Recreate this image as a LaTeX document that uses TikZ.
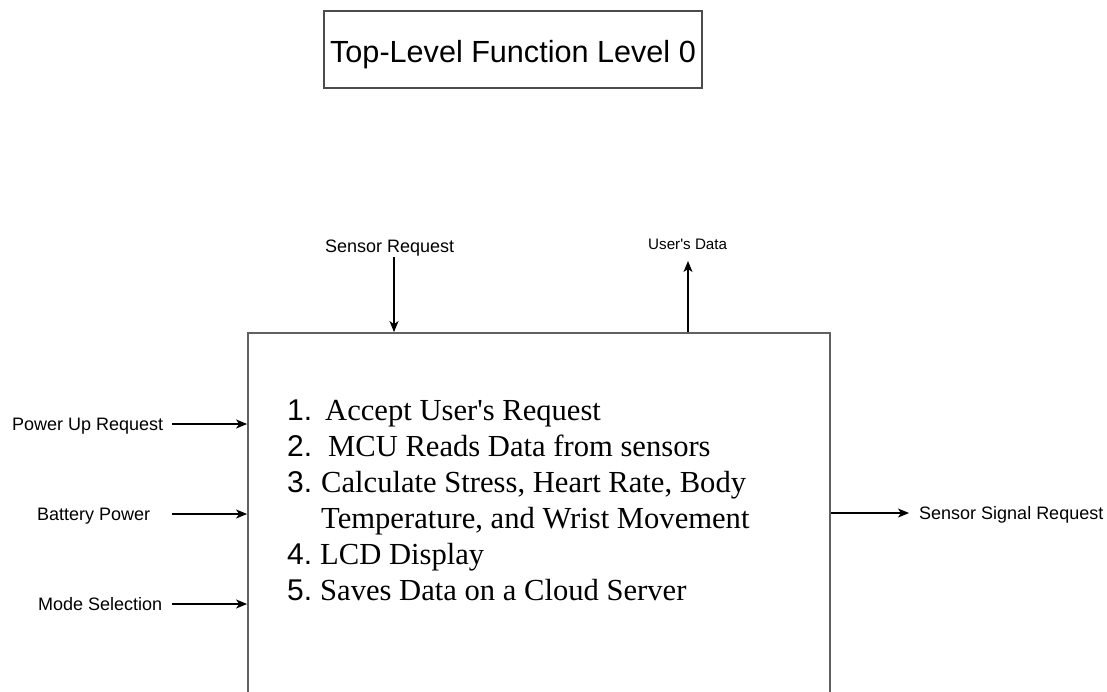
\documentclass[tikz,border=0pt]{standalone}
\usepackage{fontspec}
\setmainfont{Liberation Serif}
\setsansfont{Liberation Sans}
\usetikzlibrary{arrows.meta}

\begin{document}
\begin{tikzpicture}[x=1pt,y=-1pt,
  lbl/.style={font=\sffamily\fontsize{18}{21}\selectfont, anchor=base west, inner sep=0pt},
  smalllbl/.style={font=\sffamily\fontsize{15.2}{18}\selectfont, anchor=base west, inner sep=0pt},
  num/.style={font=\sffamily\fontsize{30}{36}\selectfont, anchor=base west, inner sep=0pt},
  item/.style={font=\rmfamily\fontsize{30.6}{36}\selectfont, anchor=base west, inner sep=0pt},
  arr/.style={-{Stealth[length=11pt,width=9pt,inset=3pt]}, line width=1.2pt, black},
  frame/.style={draw=black!62, line width=1.8pt}]
\useasboundingbox (0,0) rectangle (1107,691);
\clip (0,0) rectangle (1107,691);
\fill[white] (0,0) rectangle (1107,691);

% heading box
\node[draw=black!70, line width=1.4pt, minimum width=378pt, minimum height=77pt,
      inner sep=0pt, text height=25pt, text depth=0pt,
      font=\sffamily\fontsize{30.6}{36}\selectfont] (title) at (513,49.5)
      {Top-Level Function Level 0};

% main function block (runs past the lower edge)
\node[frame, minimum width=582pt, minimum height=400pt, inner sep=0pt] (func) at (539,533) {};

% function list
\node[num] (n1) at (287,420) {1.};
\node[item] (t1) at (325,420) {Accept User\textquotesingle s Request};
\node[num] (n2) at (287,456) {2.};
\node[item] (t2) at (328,456) {MCU Reads Data from sensors};
\node[num] (n3) at (287,492) {3.};
\node[item] (t3) at (321,492) {Calculate Stress, Heart Rate, Body};
\node[item] (t3b) at (321,528) {Temperature, and Wrist Movement};
\node[num] (n4) at (287,564) {4.};
\node[item] (t4) at (320,564) {LCD Display};
\node[num] (n5) at (287,600) {5.};
\node[item] (t5) at (320,600) {Saves Data on a Cloud Server};

% inputs on the left
\node[lbl] (pur) at (12,430.5) {Power Up Request};
\node[lbl] (bat) at (37,520.5) {Battery Power};
\node[lbl] (mode) at (38,610.5) {Mode Selection};
\coordinate (purs) at (172,424);
\coordinate (bats) at (172,514);
\coordinate (modes) at (172,604);
\draw[arr] (purs) -- (purs -| func.west);
\draw[arr] (bats) -- (bats -| func.west);
\draw[arr] (modes) -- (modes -| func.west);

% top: control in, data out
\node[lbl] (sreq) at (325,252) {Sensor Request};
\coordinate (sreqs) at (394,257);
\draw[arr] (sreqs) -- (sreqs |- func.north);
\node[smalllbl] (udata) at (648,249) {User\textquotesingle s Data};
\coordinate (udatae) at (688,261);
\draw[arr] (udatae |- func.north) -- (udatae);

% output on the right
\coordinate (ssre) at (909,513);
\draw[arr] (ssre -| func.east) -- (ssre);
\node[lbl] (ssr) at (919,519.5) {Sensor Signal Request};
\end{tikzpicture}
\end{document}
